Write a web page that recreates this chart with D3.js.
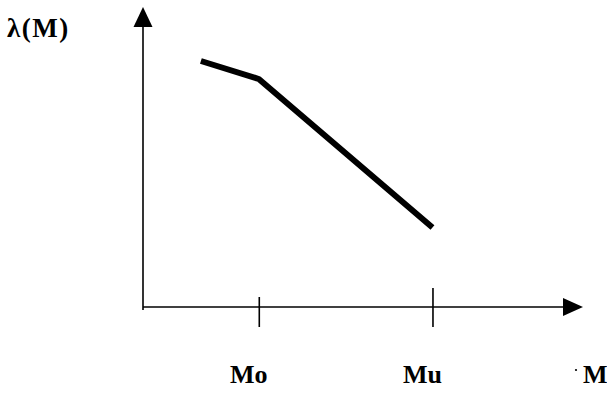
<!DOCTYPE html>
<html>
<head>
<meta charset="utf-8">
<script src="https://cdn.jsdelivr.net/npm/d3@7"></script>
<style>
  body { margin: 0; background: #fff; }
  text { font-family: "Liberation Serif", "Times New Roman", serif; font-weight: bold; fill: #000; }
</style>
</head>
<body>
<svg id="chart"></svg>
<script>
// curve points: M on x, lambda(M) on y
const mValues = [1, 2, 5];
const lambdaValues = [8.2, 7.6, 2.65];

// x axis ticks
const tickValues = [2, 5];
const tickLabels = ['Mo', 'Mu'];

const width = 607, height = 393;

const svg = d3.select('#chart')
  .attr('width', width)
  .attr('height', height);

// scales - origin at (143, 307)
const xScale = d3.scaleLinear().domain([0, 7.6]).range([143, 583]);
const yScale = d3.scaleLinear().domain([0, 10]).range([307, 7]);

const x0 = xScale(0), y0 = yScale(0);

// x axis with arrow
svg.append('line')
  .attr('x1', x0).attr('x2', xScale(7.6) - 10)
  .attr('y1', y0).attr('y2', y0)
  .attr('stroke', '#000').attr('stroke-width', 1.6);
svg.append('path')
  .attr('d', `M${xScale(7.6)},${y0} L${xScale(7.6) - 20},${y0 - 9} L${xScale(7.6) - 20},${y0 + 9} Z`)
  .attr('fill', '#000');

// y axis with arrow
svg.append('line')
  .attr('x1', x0).attr('x2', x0)
  .attr('y1', y0 + 3).attr('y2', yScale(10) + 10)
  .attr('stroke', '#000').attr('stroke-width', 1.6);
svg.append('path')
  .attr('d', `M${x0},${yScale(10)} L${x0 - 9.5},${yScale(10) + 20} L${x0 + 9.5},${yScale(10) + 20} Z`)
  .attr('fill', '#000');

// tick marks crossing the x axis
const xAxis = d3.axisBottom(xScale)
  .tickValues(tickValues)
  .tickSize(20)
  .tickFormat('');
const xAxisG = svg.append('g')
  .attr('transform', `translate(0,${y0})`)
  .call(xAxis);
xAxisG.select('.domain').remove();
xAxisG.selectAll('.tick line')
  .attr('y1', (d, i) => i === 0 ? -10 : -19)
  .attr('stroke', '#000')
  .attr('stroke-width', 1.6);

// tick labels
svg.selectAll('.tick-label')
  .data(tickValues)
  .join('text')
  .attr('class', 'tick-label')
  .attr('x', d => xScale(d) - 10)
  .attr('y', 383)
  .attr('text-anchor', 'middle')
  .style('font-size', '26px')
  .text((d, i) => tickLabels[i]);

// axis titles
svg.append('text')
  .attr('x', 583)
  .attr('y', 383)
  .style('font-size', '26px')
  .text('M');
svg.append('circle')
  .attr('cx', 576).attr('cy', 370).attr('r', 1.1)
  .attr('fill', '#000');

svg.append('text')
  .attr('x', 7)
  .attr('y', 37)
  .style('font-size', '27px')
  .style('letter-spacing', '1.5px')
  .text('λ(M)');

// curve
const line = d3.line()
  .x((d, i) => xScale(mValues[i]))
  .y(d => yScale(d));

svg.append('path')
  .datum(lambdaValues)
  .attr('d', line)
  .attr('fill', 'none')
  .attr('stroke', '#000')
  .attr('stroke-width', 6)
  .attr('stroke-linejoin', 'round');
</script>
</body>
</html>
